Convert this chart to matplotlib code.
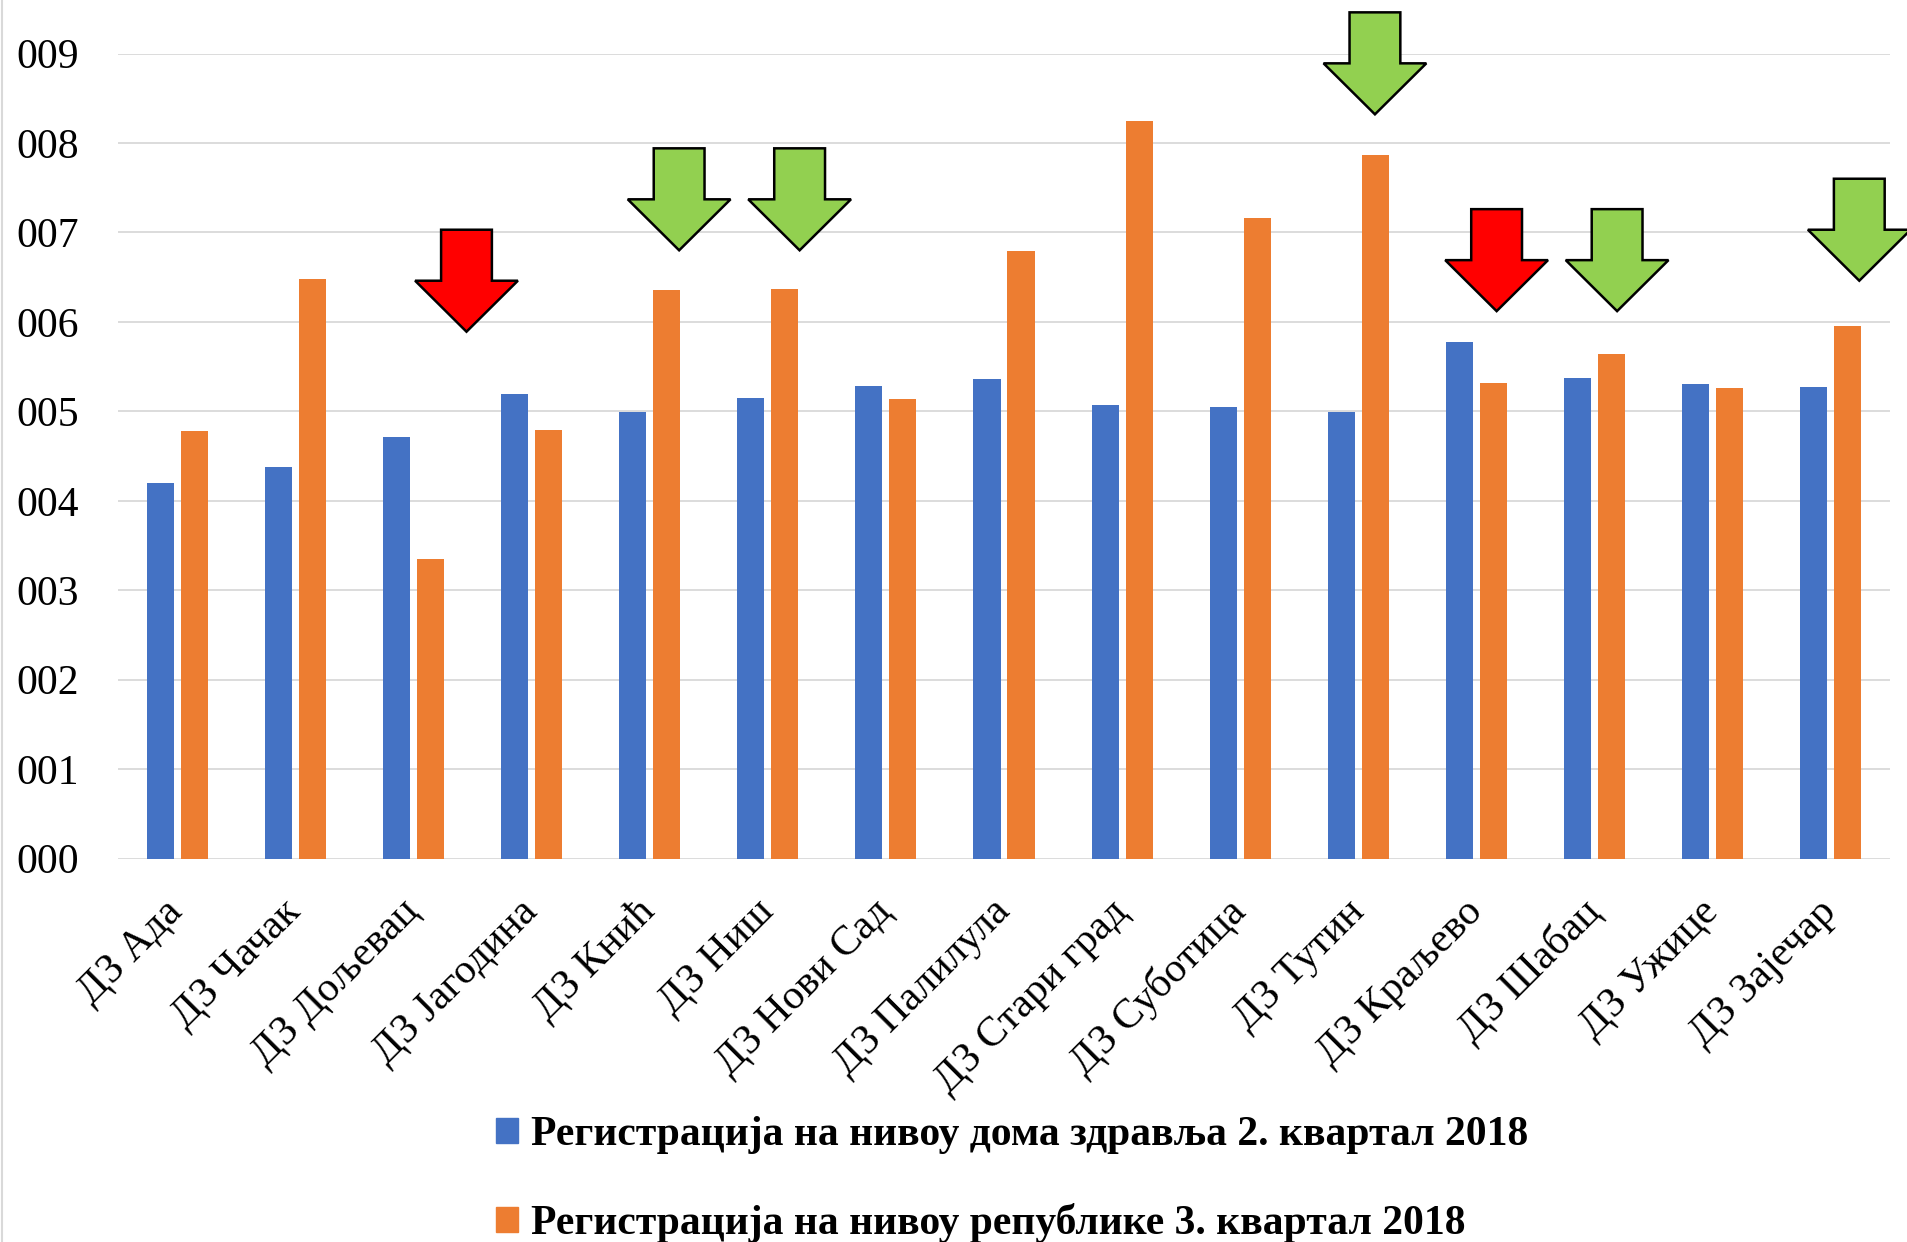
import numpy as np
import matplotlib.pyplot as plt
from matplotlib.patches import Polygon, Patch
from matplotlib.lines import Line2D

plt.rcParams['font.family'] = ['Liberation Serif', 'DejaVu Serif']

# Categories (health centres)
categories = ["ДЗ Ада", "ДЗ Чачак", "ДЗ Дољевац", "ДЗ Јагодина", "ДЗ Кнић",
              "ДЗ Ниш", "ДЗ Нови Сад", "ДЗ Палилула", "ДЗ Стари град",
              "ДЗ Суботица", "ДЗ Тутин", "ДЗ Краљево", "ДЗ Шабац",
              "ДЗ Ужице", "ДЗ Зајечар"]

# Series values
dz_q2 = [4.20, 4.38, 4.71, 5.19, 4.99, 5.15, 5.28, 5.36, 5.07, 5.05,
         4.99, 5.77, 5.37, 5.30, 5.27]
rep_q3 = [4.78, 6.48, 3.35, 4.79, 6.36, 6.37, 5.14, 6.79, 8.24, 7.16,
          7.87, 5.32, 5.64, 5.26, 5.95]

series_labels = ["Регистрација на нивоу дома здравља 2. квартал 2018",
                 "Регистрација на нивоу републике 3. квартал 2018"]

ytick_values = list(range(10))
ytick_labels = ["000", "001", "002", "003", "004", "005", "006", "007", "008", "009"]

# Arrow markers: (x in category units, y of arrow tip, colour)
arrows = [(2.45, 5.89, "red"), (4.25, 6.80, "green"), (5.27, 6.80, "green"),
          (10.14, 8.32, "green"), (11.17, 6.12, "red"), (12.19, 6.12, "green"),
          (14.24, 6.46, "green")]
arrow_colors = {"red": "#FF0000", "green": "#92D050"}

blue = "#4472C4"
orange = "#ED7D31"

fig = plt.figure(figsize=(19.07, 12.42), dpi=100)
ax = fig.add_axes([118 / 1907, 1 - 858.6 / 1242, 1772 / 1907, (858.6 - 53.5) / 1242])

x = np.arange(len(categories))
w = 0.229
off = 0.144
ax.bar(x - off, dz_q2, width=w, color=blue, zorder=3)
ax.bar(x + off, rep_q3, width=w, color=orange, zorder=3)

ax.set_xlim(-0.5, len(categories) - 0.5)
ax.set_ylim(0, 9)
ax.set_yticks(ytick_values)
ax.set_yticklabels(ytick_labels, fontsize=30)
ax.yaxis.grid(True, color="#D9D9D9", linewidth=1.3, zorder=0)
ax.set_axisbelow(True)
ax.tick_params(axis="y", length=0, pad=28)
ax.set_xticks(x)
ax.set_xticklabels(categories, fontsize=30, rotation=45, ha="right",
                   va="center", rotation_mode="anchor")
ax.tick_params(axis="x", length=0, pad=34)
for s in ax.spines.values():
    s.set_visible(False)

# arrows drawn as block-arrow polygons
head_h, total_h = 0.57, 1.14
head_w, shaft_w = 0.87, 0.43
for ax_x, tip_y, c in arrows:
    pts = [(ax_x, tip_y),
           (ax_x - head_w / 2, tip_y + head_h),
           (ax_x - shaft_w / 2, tip_y + head_h),
           (ax_x - shaft_w / 2, tip_y + total_h),
           (ax_x + shaft_w / 2, tip_y + total_h),
           (ax_x + shaft_w / 2, tip_y + head_h),
           (ax_x + head_w / 2, tip_y + head_h)]
    ax.add_patch(Polygon(pts, closed=True, facecolor=arrow_colors[c],
                         edgecolor="black", linewidth=1.8, clip_on=False, zorder=5))

handles = [Patch(color=blue), Patch(color=orange)]
fig.legend(handles, series_labels, loc="upper left",
           bbox_to_anchor=(458 / 1907, 1 - 1079 / 1242), frameon=False,
           prop={"size": 30, "weight": "bold"}, handlelength=0.55,
           handleheight=0.55, handletextpad=0.3, labelspacing=1.16)

fig.add_artist(Line2D([0.0008, 0.0008], [0, 1], transform=fig.transFigure,
                      color="#D9D9D9", linewidth=1.5))

fig.savefig("out.png", dpi=100, facecolor="white")
